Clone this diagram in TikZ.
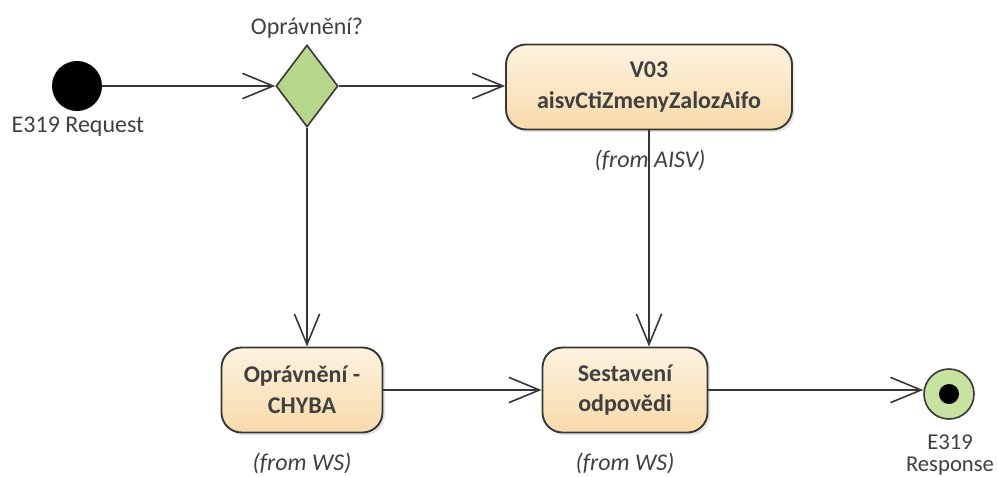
\documentclass[tikz,border=0pt]{standalone}
\usepackage{fontspec}
\setmainfont{Carlito}
\usetikzlibrary{arrows.meta,shapes.geometric,shadows}
\definecolor{acttop}{RGB}{253,243,224}
\definecolor{actbot}{RGB}{247,218,170}
\definecolor{decfill}{RGB}{182,214,138}
\definecolor{endfill}{RGB}{200,226,160}
\definecolor{edge}{RGB}{55,55,55}
\definecolor{lbl}{RGB}{64,64,64}
\tikzset{
  act/.style={draw=edge, line width=1.4pt, rounded corners=15pt, top color=acttop, bottom color=actbot,
    minimum height=63.75pt, align=center, font=\fontsize{18}{23}\selectfont\bfseries,
    drop shadow={shadow xshift=2pt, shadow yshift=-2pt, opacity=0.2}},
  flow/.style={draw=edge, line width=1.2pt, -{Straight Barb[length=23pt,width=19pt,line width=1.2pt]}},
  from/.style={font=\fontsize{18}{23}\selectfont\itshape, text=lbl}
}
\begin{document}
\begin{tikzpicture}[x=0.75pt,y=-0.75pt,font=\fontsize{18}{23}\selectfont,text=lbl]
\useasboundingbox (0,0) rectangle (998,476);
% start, decision
\node[circle, fill=black, minimum size=37.5pt, inner sep=0pt] (start) at (77,86) {};
\node (startlbl) at (78,127) {E319 Request};
\node[diamond, draw=edge, line width=1.2pt, fill=decfill, minimum width=46.5pt, minimum height=61.5pt, inner sep=0pt] (dec) at (307,86) {};
\node (declbl) at (307,28) {Oprávnění?};
% activities
\node[act, minimum width=214.5pt] (v03) at (649,87) {V03\\aisvCtiZmenyZalozAifo};
\node[from] (v03from) at (650,160) {(from AISV)};
\node[act, minimum width=120.75pt] (chyba) at (302,390) {Oprávnění -\\CHYBA};
\node[from] (chybafrom) at (302,463) {(from WS)};
\node[act, minimum width=123.75pt] (sest) at (625,390) {Sestavení\\odpovědi};
\node[from] (sestfrom) at (625,463) {(from WS)};
% end
\node[circle, draw=edge, line width=1.2pt, fill=endfill, minimum size=37.5pt, inner sep=0pt] (end) at (949,394) {};
\node[circle, fill=black, minimum size=15pt, inner sep=0pt] (enddot) at (end) {};
\node[align=center, inner sep=0pt, font=\fontsize{17}{16}\selectfont] (endlbl) at (950,455) {E319\\Response};
% flows
\draw[flow] (start) -- (dec);
\draw[flow] (dec.east) -- (dec.east -| v03.west);
\draw[flow] (dec.south) -- (dec.south |- chyba.north);
\draw[flow] (v03.south) -- (v03.south |- sest.north);
\draw[flow] (chyba) -- (sest);
\draw[flow] (sest.east) -- (sest.east -| end.west);
\end{tikzpicture}
\end{document}
